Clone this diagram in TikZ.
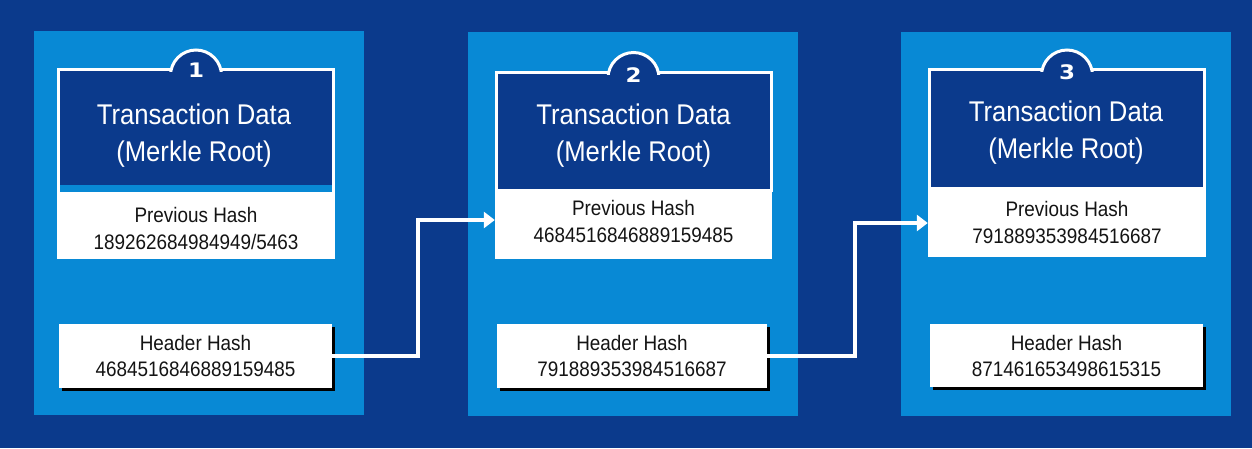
\documentclass[tikz,border=0pt]{standalone}
\usepackage{fontspec}
\setmainfont{Liberation Sans}[FakeStretch=0.9]
\newfontfamily\numfont{DejaVu Sans}[FakeStretch=1.15]
\usetikzlibrary{arrows.meta,shadows}
\definecolor{navy}{RGB}{11,58,140}
\definecolor{panelblue}{RGB}{8,137,213}
\definecolor{ink}{RGB}{20,20,20}
\newcommand\mybump[3]{%
  \begin{scope}
    \clip (#1-40,0) rectangle (#1+40,#3);
    \draw[white, fill=navy, line width=3pt] (#1,#2) circle[radius=25.5];
  \end{scope}}
\begin{document}
\begin{tikzpicture}[x=1pt,y=-1pt,
  panel/.style={fill=panelblue, draw=none, inner sep=0, minimum width=330pt, minimum height=384pt},
  titlebox/.style={fill=navy, draw=white, line width=3pt, inner sep=0, minimum width=275pt},
  prevbox/.style={fill=white, draw=none, inner sep=0, minimum width=278pt},
  hashbox/.style={fill=white, draw=none, inner sep=0, minimum height=64pt,
    general shadow={fill=black, shadow xshift=2.5pt, shadow yshift=-2.5pt},
    text=ink, font=\fontsize{21}{26}\selectfont, align=center},
  titletxt/.style={text=white, font=\fontsize{28.5}{37}\selectfont, align=center, inner sep=0},
  smalltxt/.style={text=ink, font=\fontsize{21}{27}\selectfont, align=center, inner sep=0},
  numtxt/.style={text=white, font=\numfont\bfseries\fontsize{20}{20}\selectfont, inner sep=0},
  link/.style={draw=white, line width=4pt, -{Triangle[length=11pt,width=16pt]}}]
\useasboundingbox (0,0) rectangle (1252,448);
\fill[navy] (0,0) rectangle (1252,448);

% ---------- block 1 ----------
\node[panel] (p1) at (199,223) {};
\node[titlebox, minimum height=117pt] (t1) at (196,128) {};
\mybump{196}{75.5}{71}
\node[prevbox, minimum height=74pt] (r1) at (196,222) {};
\fill[panelblue] (60,185) rectangle (332,192);
\node[titletxt] (tt1) at (194,136) {Transaction Data\\(Merkle Root)};
\node[smalltxt] (pt1) at (196,228) {Previous Hash\\189262684984949/5463};
\node[numtxt] (n1) at (196,70) {1};
\node[hashbox, minimum width=273pt] (h1) at (195.5,356) {Header Hash\\4684516846889159485};

% ---------- block 2 ----------
\node[panel] (p2) at (633,224) {};
\node[titlebox, minimum height=118pt] (t2) at (633.5,131.5) {};
\mybump{633.5}{78}{74}
\node[prevbox, minimum height=70pt, minimum width=277pt] (r2) at (633.5,224) {};
\node[titletxt] (tt2) at (633.5,136) {Transaction Data\\(Merkle Root)};
\node[smalltxt] (pt2) at (633.5,221.5) {Previous Hash\\4684516846889159485};
\node[numtxt] (n2) at (633.5,75) {2};
\node[hashbox, minimum width=270pt] (h2) at (632,356) {Header Hash\\791889353984516687};

% ---------- block 3 ----------
\node[panel] (p3) at (1066,224) {};
\node[titlebox, minimum height=119pt] (t3) at (1067,129) {};
\mybump{1067}{75.5}{71}
\node[prevbox, minimum height=70pt] (r3) at (1067,222) {};
\node[titletxt] (tt3) at (1066,133) {Transaction Data\\(Merkle Root)};
\node[smalltxt] (pt3) at (1067,222.5) {Previous Hash\\791889353984516687};
\node[numtxt] (n3) at (1067,72) {3};
\node[hashbox, minimum width=273pt, minimum height=63pt] (h3) at (1066.5,355.5) {Header Hash\\871461653498615315};

% ---------- links ----------
\draw[link] (h1.east) -- ++(86,0) |- ([yshift=4pt]r2.west);
\draw[link] (h2.east) -- ++(88,0) |- ([yshift=-1pt]r3.west);
\end{tikzpicture}
\end{document}
